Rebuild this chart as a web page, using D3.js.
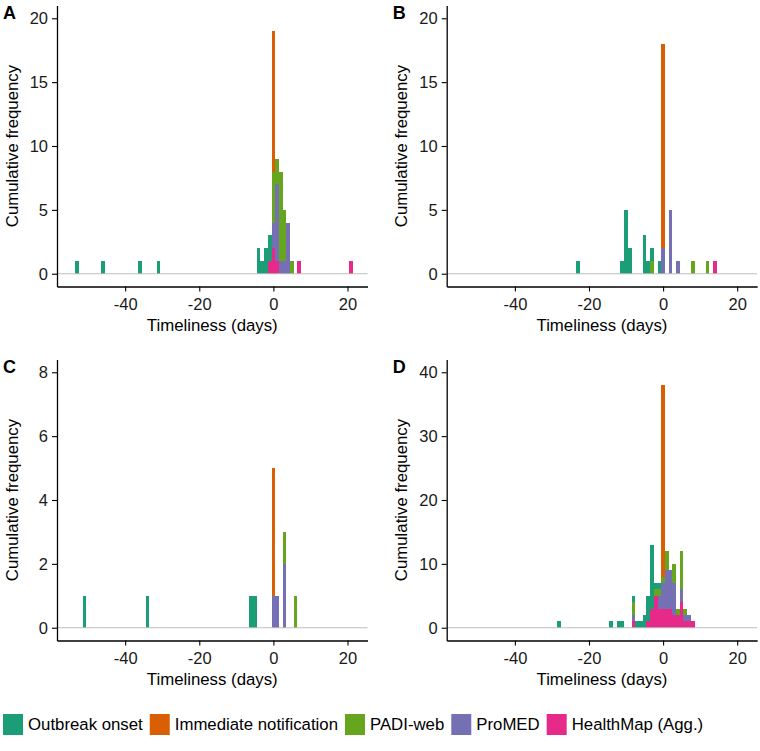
<!DOCTYPE html>
<html><head><meta charset="utf-8">
<script src="https://cdn.jsdelivr.net/npm/d3@7/dist/d3.min.js"></script>
<style>
body{margin:0;background:#fff}
svg{display:block}
text{font-family:"Liberation Sans",Arial,Helvetica,sans-serif}
</style>
</head><body>
<svg id="chart" width="760" height="751"></svg>
<script>
// ---------- data ----------
const seriesNames = ["Outbreak onset", "Immediate notification", "PADI-web", "ProMED", "HealthMap (Agg.)"];
const seriesColors = ["#1B9E77", "#D95F02", "#66A61E", "#7570B3", "#E7298A"];
const panelLabels = ["A", "B", "C", "D"];
const xTicks = [-40, -20, 0, 20];
const yTicksA = [0, 5, 10, 15, 20];
const yTicksB = [0, 5, 10, 15, 20];
const yTicksC = [0, 2, 4, 6, 8];
const yTicksD = [0, 10, 20, 30, 40];
const xTitle = "Timeliness (days)";
const yTitle = "Cumulative frequency";

// [day, count] per series (stacked)
const onsetA  = [[-53,1],[-46,1],[-36,1],[-31,1],[-4,2],[-3,1],[-2,2],[-1,2]];
const notifA  = [[0,11]];
const padiA   = [[0,4],[1,2],[2,7],[3,4],[5,1]];
const promedA = [[0,2],[1,6],[2,1],[3,1],[4,4]];
const hmA     = [[-1,1],[0,2],[1,1],[7,1],[21,1]];

const onsetB  = [[-23,1],[-11,1],[-10,5],[-9,2],[-5,3],[-4,1],[-3,1],[-1,1]];
const notifB  = [[0,16]];
const padiB   = [[-3,1],[8,1],[12,1]];
const promedB = [[0,2],[2,5],[4,1]];
const hmB     = [[14,1]];

const onsetC  = [[-51,1],[-34,1],[-6,1],[-5,1]];
const notifC  = [[0,4]];
const padiC   = [[3,1],[6,1]];
const promedC = [[0,1],[1,1],[3,2]];
const hmC     = [];

const onsetD  = [[-28,1],[-14,1],[-12,1],[-11,1],[-8,1],[-7,1],[-6,1],[-5,2],[-4,4],[-3,10],[-2,1],[-1,1]];
const notifD  = [[0,30]];
const padiD   = [[-8,2],[-2,1],[-1,1],[0,1],[1,3],[3,3],[4,1],[5,6],[6,1]];
const promedD = [[-8,1],[-1,2],[0,4],[1,6],[2,6],[3,5],[5,2],[6,1],[7,1]];
const hmD     = [[-8,1],[-4,1],[-3,3],[-2,5],[-1,3],[0,3],[1,3],[2,3],[3,2],[4,2],[5,4],[6,1],[7,1],[8,1]];

// ---------- layout ----------
const FONT = 16.5, TITLE_FONT = 16.8, LETTER_FONT = 18;
const W = 310.5, H = 281;
const origins = [[57, 5.5], [446.7, 5.5], [57, 359.5], [446.7, 359.5]];
const xDomain = [-58.4, 25.4];

const panels = [
  {label: panelLabels[0], yTicks: yTicksA, data: [onsetA, notifA, padiA, promedA, hmA]},
  {label: panelLabels[1], yTicks: yTicksB, data: [onsetB, notifB, padiB, promedB, hmB]},
  {label: panelLabels[2], yTicks: yTicksC, data: [onsetC, notifC, padiC, promedC, hmC]},
  {label: panelLabels[3], yTicks: yTicksD, data: [onsetD, notifD, padiD, promedD, hmD]}
];

const svg = d3.select("#chart");
const keys = seriesNames.map((_, i) => "s" + i);
// ggplot stacks first level on top -> bottom-up order is reversed
const stackKeys = keys.slice().reverse();

panels.forEach((p, pi) => {
  const [ox, oy] = origins[pi];
  const g = svg.append("g").attr("transform", `translate(${ox},${oy})`);
  const yMax = p.yTicks[p.yTicks.length - 1];
  const x = d3.scaleLinear().domain(xDomain).range([0, W]);
  const y = d3.scaleLinear().domain([-0.05 * yMax, 1.05 * yMax]).range([H, 0]);

  const days = new Set();
  p.data.forEach(s => s.forEach(d => days.add(d[0])));
  const rows = Array.from(days).sort((a, b) => a - b).map(day => {
    const r = {day};
    p.data.forEach((s, i) => {
      const f = s.find(d => d[0] === day);
      r[keys[i]] = f ? f[1] : 0;
    });
    return r;
  });
  const stacked = d3.stack().keys(stackKeys)(rows);

  const bars = g.append("g");
  stacked.forEach(layer => {
    const si = keys.indexOf(layer.key);
    bars.selectAll(null)
      .data(layer.filter(d => d[1] > d[0]))
      .join("rect")
      .attr("x", d => x(d.data.day - 0.5))
      .attr("width", d => x(d.data.day + 0.5) - x(d.data.day - 0.5))
      .attr("y", d => y(d[1]))
      .attr("height", d => y(d[0]) - y(d[1]))
      .attr("fill", seriesColors[si])
      .attr("shape-rendering", "crispEdges");
  });

  g.append("line")
    .attr("x1", 0).attr("x2", W)
    .attr("y1", y(0)).attr("y2", y(0))
    .attr("stroke", "#BEBEBE").attr("stroke-width", 1.1);

  const ax = g.append("g").attr("transform", `translate(0,${H})`)
    .call(d3.axisBottom(x).tickValues(xTicks).tickSize(5).tickSizeOuter(0).tickPadding(6.5)
      .tickFormat(d => d < 0 ? "-" + Math.abs(d) : d));
  const ay = g.append("g")
    .call(d3.axisLeft(y).tickValues(p.yTicks).tickSize(5).tickSizeOuter(0).tickPadding(4));
  [ax, ay].forEach(a => {
    a.select(".domain").attr("stroke", "#000").attr("stroke-width", 1.3);
    a.selectAll(".tick line").attr("stroke", "#000").attr("stroke-width", 1.1);
    a.selectAll(".tick text").attr("fill", "#1a1a1a")
      .style("font-size", FONT + "px").style("font-family", '"Liberation Sans",Arial,sans-serif');
  });

  g.append("text")
    .attr("x", W / 2).attr("y", H + 44)
    .attr("text-anchor", "middle")
    .style("font-size", TITLE_FONT + "px").attr("fill", "#000")
    .text(xTitle);
  g.append("text")
    .attr("transform", `translate(-39.5,${H / 2}) rotate(-90)`)
    .attr("text-anchor", "middle")
    .style("font-size", TITLE_FONT + "px").attr("fill", "#000")
    .text(yTitle);

  g.append("text")
    .attr("x", -54).attr("y", 13)
    .style("font-size", LETTER_FONT + "px").style("font-weight", "bold").attr("fill", "#000")
    .text(p.label);
});

// ---------- legend ----------
const legend = svg.append("g").attr("transform", "translate(3,714)");
let lx = 0;
const KEY = 20, GAP = 5, SPACING = 7;
seriesNames.forEach((name, i) => {
  legend.append("rect")
    .attr("x", lx).attr("y", 0).attr("width", KEY).attr("height", KEY + 1)
    .attr("fill", seriesColors[i]);
  const t = legend.append("text")
    .attr("x", lx + KEY + GAP).attr("y", (KEY + 1) / 2)
    .attr("dy", "0.35em")
    .style("font-size", TITLE_FONT + "px").attr("fill", "#000")
    .text(name);
  lx += KEY + GAP + t.node().getComputedTextLength() + SPACING;
});
</script>
</body></html>
